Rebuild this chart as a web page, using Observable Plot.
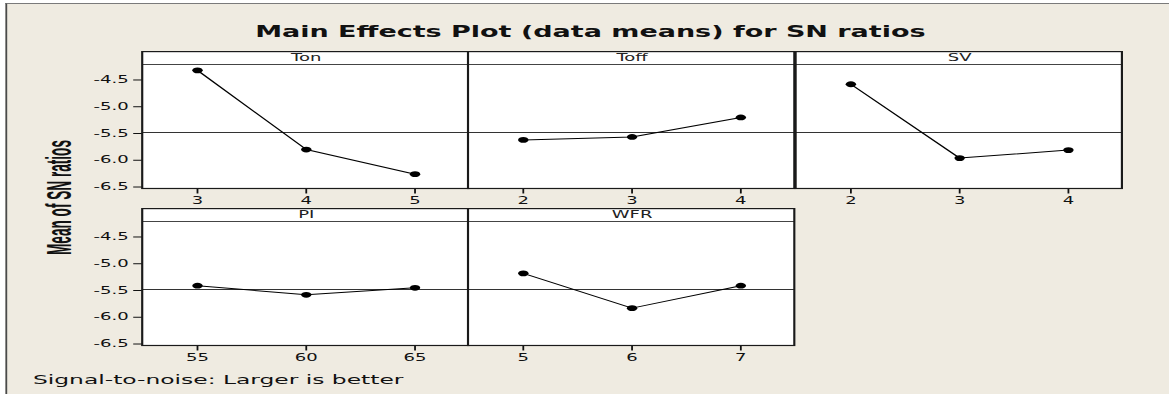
<!DOCTYPE html>
<html><head><meta charset="utf-8">
<script src="https://cdn.jsdelivr.net/npm/d3@7"></script>
<script src="https://cdn.jsdelivr.net/npm/@observablehq/plot@0.6"></script>
<style>
html,body{margin:0;padding:0;background:#fff;width:1169px;height:394px;overflow:hidden}
#stage{position:absolute;left:0;top:0;width:649.44px;height:394px;transform:scaleX(1.8);transform-origin:0 0;font-family:"DejaVu Sans",sans-serif}
#bg{position:absolute;left:3.3px;top:3px;width:700px;height:420px;background:#EFEBE1;border-left:1px solid #4a4a4a;border-top:1px solid #7a7a7a}
.panel{position:absolute}
#overlay{position:absolute;left:0;top:0}
</style></head><body>
<div id="stage"><div id="bg"></div></div>
<script>
// ---- data ----
const titleText = "Main Effects Plot (data means) for SN ratios";
const yLabelText = "Mean of SN ratios";
const captionText = "Signal-to-noise: Larger is better";
const factorNames = ["Ton", "Toff", "SV", "PI", "WFR"];
const tonLevels = [3, 4, 5];
const tonMeans = [-4.32, -5.80, -6.26];
const toffLevels = [2, 3, 4];
const toffMeans = [-5.62, -5.565, -5.20];
const svLevels = [2, 3, 4];
const svMeans = [-4.58, -5.96, -5.81];
const piLevels = [55, 60, 65];
const piMeans = [-5.41, -5.58, -5.45];
const wfrLevels = [5, 6, 7];
const wfrMeans = [-5.18, -5.83, -5.41];
const grandMean = -5.48;
const yTicks = [-4.5, -5.0, -5.5, -6.0, -6.5];
const yDomain = [-6.537, -4.22];

// ---- layout (unscaled coordinates; stage is stretched 1.8x horizontally) ----
const ML = 45, MR = 4, MT = 13.5, PH = 124, MB = 26, PW = 181.3;
const panelX0 = 78.9;
const rowTops = [50.7, 208.3];
const levelsList = [tonLevels, toffLevels, svLevels, piLevels, wfrLevels];
const meansList = [tonMeans, toffMeans, svMeans, piMeans, wfrMeans];
const grid = [[0,0],[0,1],[0,2],[1,0],[1,1]];

const stage = document.getElementById("stage");

function stripMark(index, scales, values, dims) {
  const g = d3.create("svg:g");
  const x0 = dims.marginLeft, x1 = dims.width - dims.marginRight;
  const y0 = 0.6, ys = dims.marginTop, y1 = dims.height - dims.marginBottom;
  g.append("rect").attr("x", x0).attr("y", y0).attr("width", x1 - x0).attr("height", ys - y0).attr("fill", "white");
  g.append("line").attr("x1", x0).attr("x2", x1).attr("y1", ys).attr("y2", ys).attr("stroke", "#444").attr("stroke-width", 1);
  g.append("rect").attr("x", x0).attr("y", y0).attr("width", x1 - x0).attr("height", y1 - y0)
    .attr("fill", "none").attr("stroke", "#1a1a1a").attr("stroke-width", 1.2);
  return g.node();
}

factorNames.forEach((name, k) => {
  const levels = levelsList[k], means = meansList[k];
  const data = levels.map((l, i) => ({level: l, mean: means[i]}));
  const step = levels[1] - levels[0];
  const [row, col] = grid[k];
  const showY = col === 0;
  const chart = Plot.plot({
    width: ML + PW + MR, height: MT + PH + MB,
    marginLeft: ML, marginRight: MR, marginTop: MT, marginBottom: MB,
    style: {background: "transparent", fontFamily: "DejaVu Sans, sans-serif", fontSize: "10px", color: "#111", overflow: "visible"},
    x: {domain: [levels[0] - step / 2, levels[levels.length - 1] + step / 2], ticks: levels, tickSize: 5, tickPadding: 3, tickFormat: d => String(d), label: null},
    y: {domain: yDomain, ticks: yTicks, tickSize: 5, tickPadding: 3, tickFormat: d => d.toFixed(1), label: null, axis: showY ? "left" : null},
    marks: [
      Plot.frame({fill: "white", stroke: "none"}),
      Plot.ruleY([grandMean], {stroke: "#333", strokeWidth: 1}),
      Plot.line(data, {x: "level", y: "mean", stroke: "black", strokeWidth: 1}),
      Plot.dot(data, {x: "level", y: "mean", r: 2.9, fill: "black", stroke: "none"}),
      stripMark,
      Plot.text([name], {frameAnchor: "top", lineAnchor: "middle", dy: -MT / 2, fontSize: 10, fill: "#222"})
    ]
  });
  chart.classList.add("panel");
  chart.style.left = (panelX0 + col * PW - ML) + "px";
  chart.style.top = rowTops[row] + "px";
  stage.appendChild(chart);
});

// ---- overlay texts ----
const ov = d3.select(stage).append("svg").attr("id", "overlay").attr("width", 649.44).attr("height", 394);
ov.append("text").attr("x", 328).attr("y", 37.3).attr("text-anchor", "middle")
  .attr("font-family", "DejaVu Sans, sans-serif").attr("font-weight", "bold").attr("font-size", 15).attr("fill", "#111")
  .text(titleText);
ov.append("text").attr("transform", "translate(32.5,197.5) rotate(-90)").attr("text-anchor", "middle").attr("dy", "0.36em")
  .attr("textLength", 115).attr("lengthAdjust", "spacingAndGlyphs")
  .attr("font-family", "Liberation Sans Narrow, Arial Narrow, Liberation Sans, sans-serif").attr("font-weight", "bold").attr("font-size", 19).attr("fill", "#111")
  .text(yLabelText);
ov.append("text").attr("x", 18.3).attr("y", 384.5)
  .attr("font-family", "DejaVu Sans, sans-serif").attr("font-size", 13).attr("fill", "#111")
  .text(captionText);
</script>
</body></html>
